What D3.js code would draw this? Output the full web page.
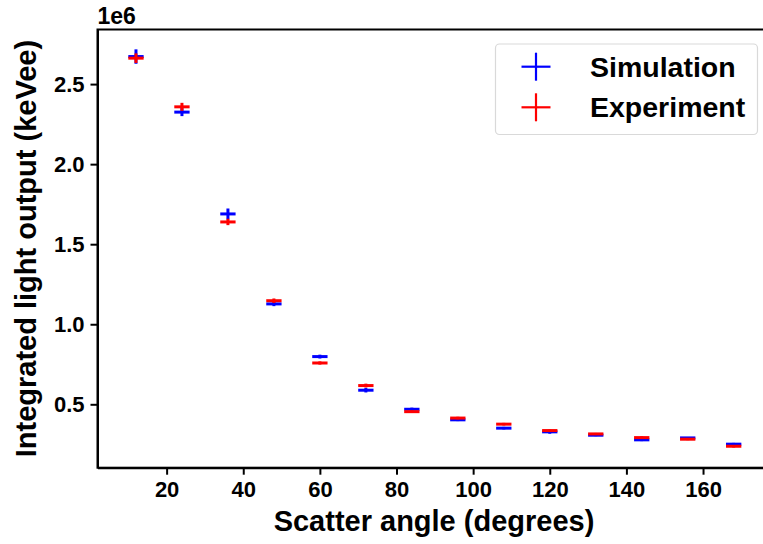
<!DOCTYPE html>
<html>
<head>
<meta charset="utf-8">
<script src="https://cdn.jsdelivr.net/npm/d3@7"></script>
<style>
  body { margin: 0; background: #fff; }
  svg { display: block; }
  text { font-family: "Liberation Sans", Arial, sans-serif; font-weight: bold; fill: #000; }
</style>
</head>
<body>
<div class="chart"></div>
<script>
// DATA
var angles = [12, 24, 36, 48, 60, 72, 84, 96, 108, 120, 132, 144, 156, 168];
var angleErr = 2;
// light output in units of 1e6 keVee
var simulation = [2.672, 2.325, 1.689, 1.127, 0.798, 0.588, 0.469, 0.403, 0.351, 0.328, 0.307, 0.278, 0.290, 0.251];
var simulationErr = [0.045, 0.025, 0.034, 0.014, 0.012, 0.014, 0.010, 0.008, 0.008, 0.012, 0.006, 0.008, 0.005, 0.008];
var experiment = [2.662, 2.358, 1.639, 1.147, 0.758, 0.617, 0.454, 0.414, 0.376, 0.336, 0.315, 0.292, 0.282, 0.238];
var experimentErr = [0.030, 0.025, 0.020, 0.014, 0.010, 0.012, 0.008, 0.008, 0.008, 0.006, 0.006, 0.008, 0.006, 0.008];
var xTicks = [20, 40, 60, 80, 100, 120, 140, 160];
var yTicks = [0.5, 1.0, 1.5, 2.0, 2.5];
var seriesNames = ['Simulation', 'Experiment'];
var seriesColors = ['#0000ff', '#ff0000'];

//BOARD
var width = 763, height = 544;
var plot = {left: 97.5, top: 29.5, right: 772, bottom: 467.7};

var svg = d3.select('.chart').append('svg')
  .attr('width', width)
  .attr('height', height);

var x = d3.scaleLinear().domain([1.96, 178]).range([plot.left, plot.right]);
var y = d3.scaleLinear().domain([0.104, 2.841]).range([plot.bottom, plot.top]);

// frame (right side is cut off by the window)
svg.append('rect')
  .attr('x', plot.left).attr('y', plot.top)
  .attr('width', plot.right - plot.left).attr('height', plot.bottom - plot.top)
  .attr('fill', 'none').attr('stroke', '#000').attr('stroke-width', 2);

// AXES
var xAxis = svg.append('g')
  .attr('transform', 'translate(0,' + plot.bottom + ')')
  .call(d3.axisBottom(x).tickValues(xTicks).tickSize(7).tickSizeOuter(0).tickPadding(6));

var yAxis = svg.append('g')
  .attr('transform', 'translate(' + plot.left + ',0)')
  .call(d3.axisLeft(y).tickValues(yTicks).tickSize(7).tickSizeOuter(0).tickPadding(6)
    .tickFormat(d3.format('.1f')));

[xAxis, yAxis].forEach(function (g) {
  g.select('.domain').attr('stroke-width', 2);
  g.selectAll('.tick line').attr('stroke-width', 2);
  g.selectAll('.tick text')
    .style('font-size', '22px')
    .style('font-family', '"Liberation Sans", Arial, sans-serif')
    .style('font-weight', 'bold');
});
xAxis.selectAll('.tick text').attr('dy', '0.74em');

svg.append('text')
  .attr('x', plot.left).attr('y', 24)
  .style('font-size', '23px')
  .text('1e6');

svg.append('text')
  .attr('x', 434).attr('y', 531)
  .attr('text-anchor', 'middle')
  .style('font-size', '29px')
  .text('Scatter angle (degrees)');

svg.append('text')
  .attr('transform', 'translate(36,' + ((plot.top + plot.bottom) / 2) + ') rotate(-90)')
  .attr('text-anchor', 'middle')
  .style('font-size', '29px')
  .text('Integrated light output (keVee)');

// ERROR BARS
var series = [simulation, experiment];
var seriesErr = [simulationErr, experimentErr];

series.forEach(function (vals, s) {
  var g = svg.append('g').attr('stroke', seriesColors[s]).attr('stroke-width', 3);
  var pts = angles.map(function (a, i) { return {a: a, v: vals[i], e: seriesErr[s][i]}; });
  g.selectAll('.h').data(pts).enter().append('line')
    .attr('x1', function (d) { return x(d.a - angleErr); })
    .attr('x2', function (d) { return x(d.a + angleErr); })
    .attr('y1', function (d) { return y(d.v); })
    .attr('y2', function (d) { return y(d.v); });
  g.selectAll('.v').data(pts).enter().append('line')
    .attr('x1', function (d) { return x(d.a); })
    .attr('x2', function (d) { return x(d.a); })
    .attr('y1', function (d) { return y(d.v - d.e); })
    .attr('y2', function (d) { return y(d.v + d.e); });
});

// LEGEND
var legend = svg.append('g');
legend.append('rect')
  .attr('x', 495.5).attr('y', 44).attr('width', 262).attr('height', 90.5)
  .attr('rx', 4).attr('ry', 4)
  .attr('fill', 'rgba(255,255,255,0.8)')
  .attr('stroke', '#d9d9d9').attr('stroke-width', 1.2);

seriesNames.forEach(function (name, i) {
  var cy = 66.7 + i * 40.6;
  var item = legend.append('g').attr('stroke', seriesColors[i]).attr('stroke-width', 2.2);
  item.append('line').attr('x1', 521.5).attr('x2', 550.5).attr('y1', cy).attr('y2', cy);
  item.append('line').attr('x1', 536).attr('x2', 536).attr('y1', cy - 14).attr('y2', cy + 14);
  legend.append('text')
    .attr('x', 590).attr('y', cy + 10)
    .style('font-size', '28.5px')
    .text(name);
});
</script>
</body>
</html>
